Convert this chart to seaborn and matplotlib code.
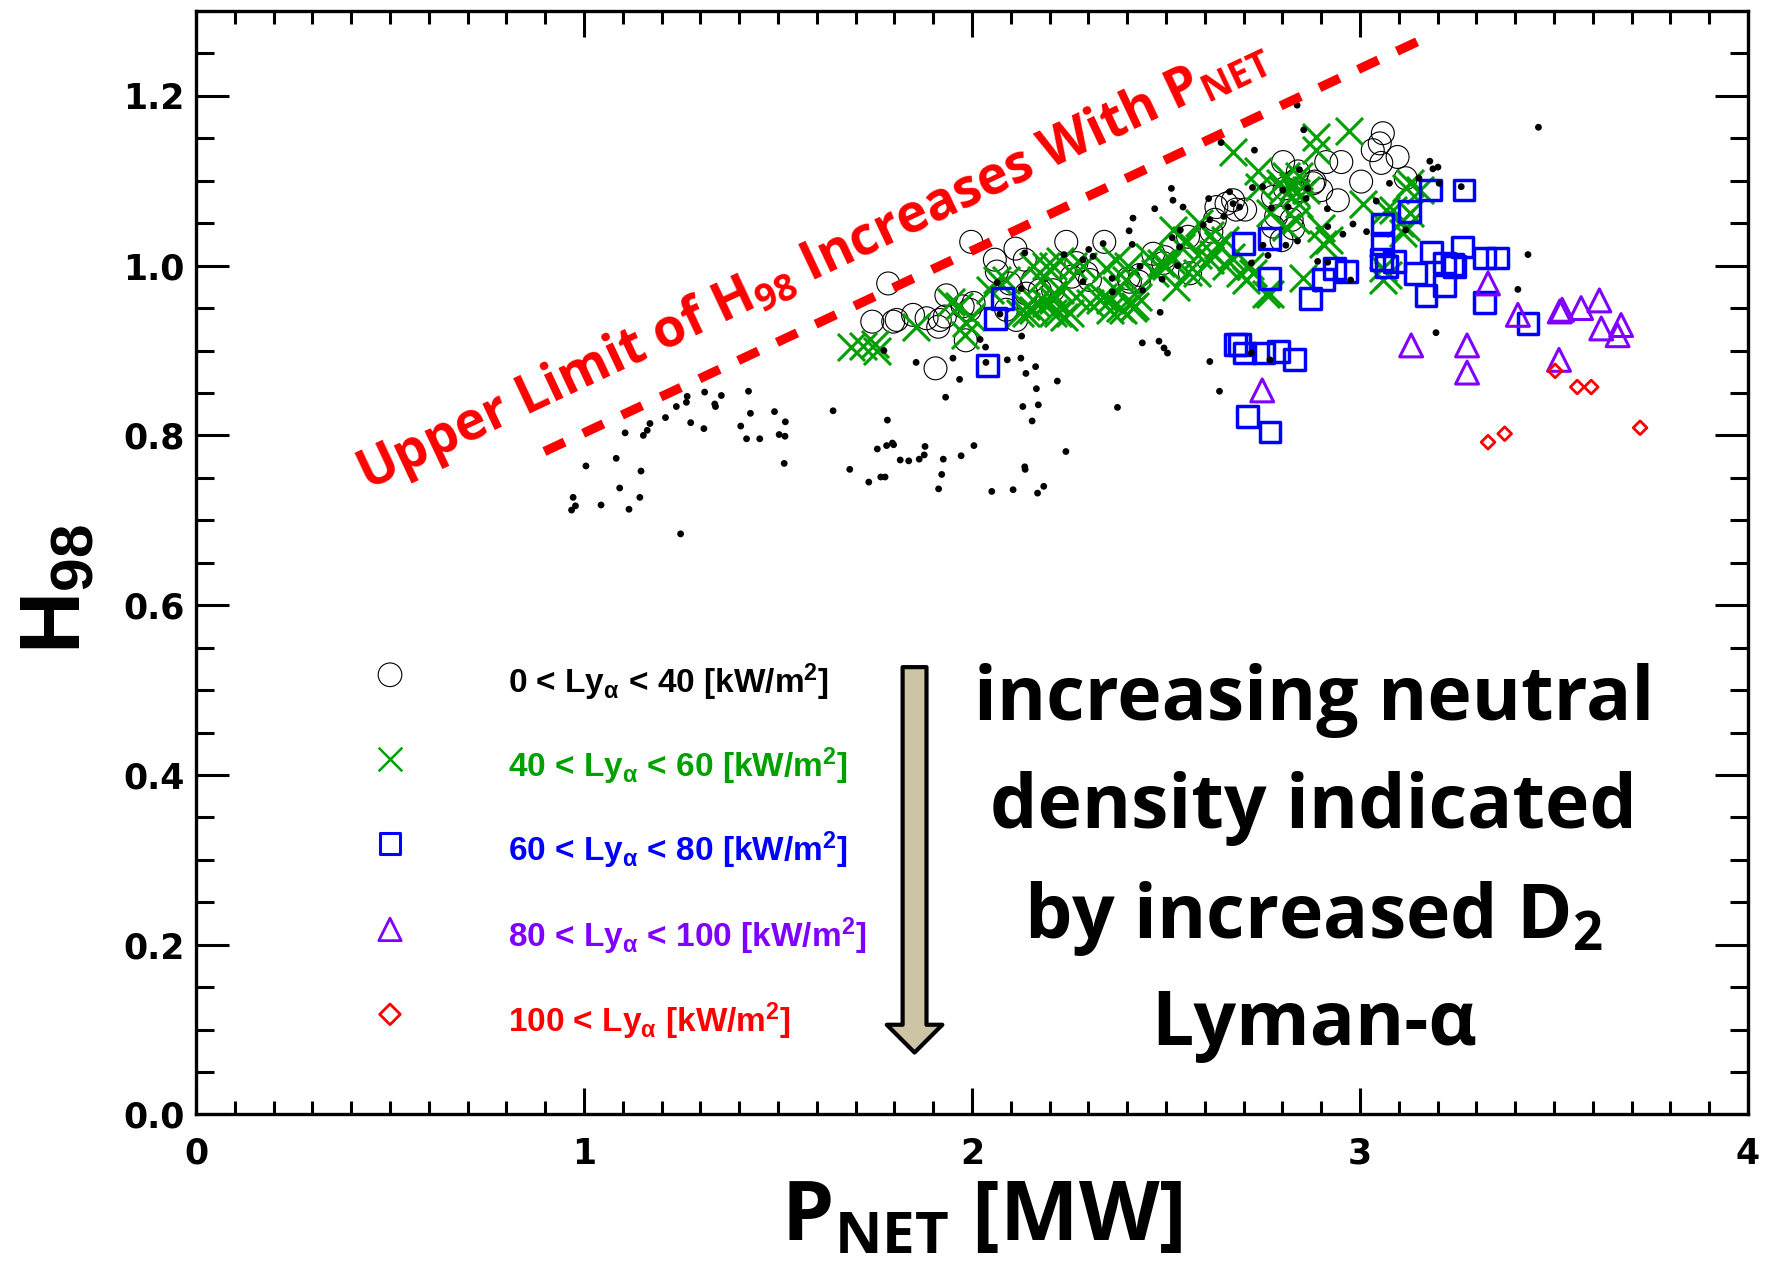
import matplotlib
matplotlib.use("Agg")
import matplotlib.pyplot as plt
import seaborn as sns
from matplotlib.ticker import MultipleLocator, FormatStrFormatter

sns.set_style("ticks")
plt.rcParams["font.family"] = ["DejaVu Sans"]
plt.rcParams["mathtext.fontset"] = "dejavusans"
for key in ["text.color", "axes.labelcolor", "xtick.color", "ytick.color", "axes.edgecolor"]:
    plt.rcParams[key] = "black"

# ---- all discharges (small black dots) ----
dot_x = [1.266, 1.264, 1.311, 1.354, 1.337, 1.339, 1.238, 1.210, 1.170, 1.163, 1.153, 1.106,
         1.275, 1.309, 1.424, 1.429, 1.491, 1.519, 1.404, 1.419, 1.453, 1.503, 1.518, 1.516,
         1.642, 1.005, 1.083, 1.147, 1.092, 1.144, 0.972, 0.978, 0.968, 1.044, 1.116, 1.249,
         1.782, 1.756, 1.780, 1.795, 1.798, 1.815, 1.837, 1.864, 1.879, 1.877, 1.926, 1.972,
         2.005, 1.685, 1.734, 1.765, 1.776, 1.922, 1.914, 2.051, 2.106, 2.136, 2.137, 2.169,
         2.185, 2.242, 2.375, 1.856, 1.951, 1.968, 1.932, 2.036, 2.091, 2.126, 2.164, 2.139,
         2.166, 2.220, 2.131, 2.171, 2.155, 2.128, 2.021, 2.035, 1.773,
         2.136, 2.237, 2.301, 2.286, 2.312, 2.338, 2.127, 2.072, 2.361, 2.286, 2.362, 2.065,
         2.838, 2.855, 2.642, 2.728, 2.514, 2.518, 2.471, 2.415, 2.405, 2.413, 2.610, 2.723,
         2.749, 2.544, 2.664, 2.673, 2.690, 2.649, 2.613, 2.596, 2.537, 2.516, 2.535, 2.530,
         2.490, 2.440, 2.485, 2.433, 2.750, 2.763, 2.772, 2.815, 2.809, 2.839, 2.844, 2.865,
         2.861, 2.801, 2.720, 2.917, 2.916, 2.956, 2.982, 2.891, 2.917, 2.976, 3.076, 3.042,
         3.017, 3.180, 3.188, 3.201, 3.261, 3.118, 3.196, 2.439, 2.482, 2.495, 2.504, 2.613,
         2.638, 2.720, 2.768, 3.460, 3.204, 3.433, 3.407, 3.152]
dot_y = [0.846, 0.839, 0.851, 0.847, 0.837, 0.834, 0.834, 0.821, 0.814, 0.806, 0.800, 0.803,
         0.815, 0.808, 0.852, 0.826, 0.828, 0.816, 0.811, 0.796, 0.796, 0.801, 0.799, 0.767,
         0.829, 0.764, 0.773, 0.758, 0.738, 0.727, 0.727, 0.717, 0.712, 0.718, 0.713, 0.684,
         0.818, 0.784, 0.788, 0.791, 0.789, 0.771, 0.770, 0.772, 0.787, 0.777, 0.772, 0.776,
         0.788, 0.760, 0.745, 0.751, 0.751, 0.754, 0.737, 0.734, 0.736, 0.763, 0.760, 0.732,
         0.740, 0.781, 0.833, 0.886, 0.891, 0.866, 0.845, 0.886, 0.889, 0.891, 0.881, 0.873,
         0.855, 0.864, 0.834, 0.836, 0.817, 0.917, 0.913, 0.904, 0.900,
         1.015, 1.013, 1.019, 1.007, 1.011, 1.026, 0.973, 0.943, 0.985, 0.981, 0.969, 0.980,
         1.189, 1.160, 1.145, 1.136, 1.091, 1.077, 1.067, 1.056, 1.041, 1.025, 1.079, 1.092,
         1.093, 1.069, 1.087, 1.073, 1.069, 1.058, 1.054, 1.048, 1.042, 1.033, 1.022, 1.000,
         0.984, 0.971, 0.945, 0.999, 1.024, 1.012, 1.068, 1.069, 1.024, 1.029, 1.113, 1.091,
         1.079, 1.089, 1.003, 1.046, 1.067, 1.037, 1.049, 1.005, 1.004, 0.983, 1.097, 1.076,
         1.040, 1.123, 1.114, 1.116, 1.093, 1.042, 0.921, 0.909, 0.911, 0.903, 0.897, 0.887,
         0.852, 0.897, 0.889, 1.163, 1.097, 1.013, 0.972, 1.103]

# ---- 0 < Ly_alpha < 40 ----
circ_x = [1.906, 1.743, 1.797, 1.806, 1.848, 1.883, 1.913, 1.917, 1.930, 1.934, 1.984, 1.994,
          1.976, 2.004, 2.059, 2.064, 2.112, 2.136, 1.998, 1.784, 2.097, 2.140, 2.157, 2.114,
          2.175, 2.209, 2.243, 2.269, 2.295, 2.304, 2.341, 2.257, 2.433, 2.407, 2.430, 2.467,
          2.497, 2.493, 2.557, 2.562, 2.617, 2.626, 2.656, 2.673, 2.681, 2.630, 2.704, 2.776,
          2.798, 2.824, 2.828, 2.784, 2.806, 2.836, 2.844, 2.879, 2.900, 2.913, 2.952, 2.943,
          3.003, 3.033, 3.051, 3.059, 3.055, 3.097, 3.118, 2.802, 2.840, 2.883, 2.776, 2.088,
          2.403]
circ_y = [0.879, 0.934, 0.934, 0.936, 0.942, 0.938, 0.928, 0.936, 0.940, 0.965, 0.912, 0.948,
          0.952, 0.956, 1.007, 0.993, 1.020, 1.007, 1.028, 0.979, 0.979, 0.967, 0.983, 0.936,
          0.971, 0.971, 1.028, 1.003, 0.991, 0.983, 1.028, 0.987, 0.989, 0.981, 0.981, 1.014,
          1.010, 1.003, 1.034, 0.991, 1.040, 1.054, 1.073, 1.077, 1.066, 1.069, 1.066, 1.046,
          1.030, 1.054, 1.044, 1.058, 1.091, 1.101, 1.089, 1.097, 1.089, 1.122, 1.122, 1.077,
          1.099, 1.136, 1.144, 1.156, 1.121, 1.128, 1.103, 1.122, 1.111, 1.099, 1.081, 0.948,
          0.985]

# ---- 40 < Ly_alpha < 60 ----
cross_x = [1.688, 1.720, 1.750, 1.754, 1.857, 1.947, 1.966, 1.984, 1.997, 1.981, 2.046, 2.064,
           2.088, 2.140, 2.157, 2.140, 2.166, 2.192, 2.209, 2.209, 2.236, 2.209, 2.226, 2.261,
           2.226, 2.269, 2.338, 2.355, 2.372, 2.346, 2.123, 2.372, 2.355, 2.381, 2.415, 2.398,
           2.428, 2.501, 2.514, 2.540, 2.557, 2.579, 2.583, 2.613, 2.613, 2.634, 2.651, 2.668,
           2.690, 2.707, 2.716, 2.673, 2.737, 2.741, 2.793, 2.809, 2.827, 2.844, 2.836, 2.768,
           2.809, 2.836, 2.886, 2.886, 2.973, 2.900, 2.904, 2.921, 2.759, 2.852, 3.009, 3.059,
           3.085, 2.527, 2.471, 2.488, 2.457, 3.128, 3.128, 3.103, 3.111, 3.059, 2.724, 2.192,
           2.179, 2.209, 2.222, 2.252, 2.286, 2.157, 2.304, 2.389, 2.419, 2.402, 2.329, 2.518,
           2.552, 2.586, 2.620, 2.655, 2.801, 2.861, 2.844, 2.768, 3.119, 3.154, 3.068, 3.119,
           3.072]
cross_y = [0.904, 0.905, 0.908, 0.899, 0.928, 0.957, 0.953, 0.932, 0.940, 0.918, 0.971, 0.983,
           0.983, 0.944, 0.999, 0.952, 0.956, 0.956, 0.959, 0.944, 0.940, 0.999, 1.005, 0.999,
           0.971, 0.963, 0.963, 0.948, 0.971, 0.997, 0.944, 1.007, 0.960, 0.950, 0.950, 0.983,
           0.963, 0.999, 1.007, 1.022, 0.993, 0.991, 1.012, 1.007, 1.036, 1.024, 1.030, 1.010,
           0.991, 0.983, 0.999, 1.134, 1.111, 1.093, 1.097, 1.105, 1.093, 1.105, 1.085, 1.062,
           1.046, 1.054, 1.152, 1.136, 1.158, 1.044, 1.026, 1.030, 0.967, 0.985, 1.073, 0.983,
           1.066, 0.975, 0.991, 1.003, 1.010, 1.097, 1.062, 1.050, 1.038, 0.997, 0.991, 0.999,
           0.983, 0.967, 0.944, 0.944, 0.999, 0.948, 0.956, 0.948, 0.952, 0.999, 0.960, 1.042,
           1.030, 1.050, 1.014, 0.999, 1.089, 1.089, 1.073, 0.967, 1.091, 1.089, 1.066, 1.046,
           0.989]

# ---- 60 < Ly_alpha < 80 ----
sq_x = [2.079, 2.061, 2.039, 2.699, 2.766, 2.766, 2.873, 2.905, 2.935, 2.965, 3.058, 3.058,
        3.055, 3.068, 3.089, 3.128, 3.182, 3.268, 3.184, 3.144, 3.170, 3.218, 3.239, 3.218,
        3.265, 3.321, 3.355, 3.321, 3.244, 3.433, 2.679, 2.703, 2.690, 2.751, 2.789, 2.832,
        2.710, 2.768]
sq_y = [0.961, 0.938, 0.882, 1.026, 1.032, 0.985, 0.961, 0.984, 0.997, 0.993, 1.048, 1.026,
        1.007, 0.999, 1.005, 1.064, 1.089, 1.089, 1.016, 0.991, 0.965, 1.003, 1.001, 0.977,
        1.022, 1.009, 1.009, 0.957, 0.999, 0.932, 0.907, 0.897, 0.907, 0.897, 0.899, 0.889,
        0.822, 0.804]

# ---- 80 < Ly_alpha < 100 ----
tri_x = [3.132, 3.276, 3.276, 3.330, 3.407, 3.515, 3.521, 3.570, 3.617, 3.622, 3.673, 3.664,
         3.513, 2.748]
tri_y = [0.906, 0.906, 0.874, 0.979, 0.942, 0.946, 0.948, 0.950, 0.959, 0.926, 0.930, 0.918,
         0.889, 0.853]

# ---- 100 < Ly_alpha ----
dia_x = [3.503, 3.560, 3.596, 3.330, 3.373, 3.722]
dia_y = [0.876, 0.857, 0.857, 0.792, 0.802, 0.809]

# upper-limit guide line
limit_x = [0.898, 3.172]
limit_y = [0.781, 1.269]

# key
key_labels = [
    r"0 < Ly$\mathregular{_{\alpha}}$ < 40 [kW/m$\mathregular{^{2}}$]",
    r"40 < Ly$\mathregular{_{\alpha}}$ < 60 [kW/m$\mathregular{^{2}}$]",
    r"60 < Ly$\mathregular{_{\alpha}}$ < 80 [kW/m$\mathregular{^{2}}$]",
    r"80 < Ly$\mathregular{_{\alpha}}$ < 100 [kW/m$\mathregular{^{2}}$]",
    r"100 < Ly$\mathregular{_{\alpha}}$ [kW/m$\mathregular{^{2}}$]",
]
key_y = [0.518, 0.419, 0.319, 0.218, 0.118]
key_colors = ["black", "#00a000", "#0000ff", "#8000ff", "#ff0000"]

CALI = "Open Sans"

fig = plt.figure(figsize=(17.69, 12.74), dpi=100)
ax = fig.add_axes([0.1108, 0.1252, 0.8773, 0.8662])

# data points
sns.scatterplot(x=circ_x, y=circ_y, ax=ax, marker="o", s=272, facecolor="none",
                edgecolor="black", linewidth=0.8, zorder=2)
sns.scatterplot(x=cross_x, y=cross_y, ax=ax, marker="x", s=380, color="#00a000",
                linewidth=2.2, zorder=3)
sns.scatterplot(x=sq_x, y=sq_y, ax=ax, marker="s", s=225, facecolor="none",
                edgecolor="#0000ff", linewidth=2.5, zorder=4)
sns.scatterplot(x=tri_x, y=tri_y, ax=ax, marker="^", s=272, facecolor="none",
                edgecolor="#8000ff", linewidth=2.2, zorder=5)
sns.scatterplot(x=dia_x, y=dia_y, ax=ax, marker="D", s=49, facecolor="none",
                edgecolor="#ff0000", linewidth=2.0, zorder=6)
sns.scatterplot(x=dot_x, y=dot_y, ax=ax, marker="o", s=24, color="black",
                edgecolor="none", linewidth=0, zorder=7)

# key markers and labels
key_x = [0.5] * 5
sns.scatterplot(x=key_x[0:1], y=key_y[0:1], ax=ax, marker="o", s=290, facecolor="none",
                edgecolor="black", linewidth=0.8)
sns.scatterplot(x=key_x[1:2], y=key_y[1:2], ax=ax, marker="x", s=290, color="#00a000",
                linewidth=1.8)
sns.scatterplot(x=key_x[2:3], y=key_y[2:3], ax=ax, marker="s", s=225, facecolor="none",
                edgecolor="#0000ff", linewidth=2.2)
sns.scatterplot(x=key_x[3:4], y=key_y[3:4], ax=ax, marker="^", s=260, facecolor="none",
                edgecolor="#8000ff", linewidth=2.0)
sns.scatterplot(x=key_x[4:5], y=key_y[4:5], ax=ax, marker="D", s=110, facecolor="none",
                edgecolor="#ff0000", linewidth=2.0)
for lab, yy, col in zip(key_labels, key_y, key_colors):
    ax.text(0.803, yy - 0.021, lab, color=col, fontsize=24, fontweight="bold",
            family="Liberation Sans", ha="left", va="baseline")

# upper-limit line and label
ax.plot(limit_x, limit_y, color="#ff0000", linewidth=6.7,
        linestyle=(0, (2.4, 2.2)), solid_capstyle="butt", dash_capstyle="butt", zorder=8)
ax.text(0.44, 0.735,
        r"Upper Limit of H$\mathregular{_{98}}$ Increases With P$\mathregular{_{NET}}$",
        color="#ff0000", fontsize=38, fontweight="bold", family=CALI,
        rotation=25.2, rotation_mode="anchor", ha="left", va="baseline", zorder=9)

# density arrow and its note
ax.annotate("", xy=(1.852, 0.073), xytext=(1.852, 0.527),
            arrowprops=dict(arrowstyle="simple,head_length=1.0,head_width=2.0,tail_width=0.86",
                            mutation_scale=20, fc="#ccc4a4", ec="black", lw=3,
                            shrinkA=0, shrinkB=0))
note_lines = ["increasing neutral", "density indicated",
              r"by increased D$\mathregular{_{2}}$", "Lyman-α"]
note_y = [0.465, 0.3375, 0.208, 0.082]
for line, yy in zip(note_lines, note_y):
    ax.text(2.881, yy, line, fontsize=54, fontweight="bold", family=CALI,
            ha="center", va="baseline", color="black")

# axes
ax.set_xlim(0, 4)
ax.set_ylim(0, 1.3)
ax.xaxis.set_major_locator(MultipleLocator(1))
ax.xaxis.set_minor_locator(MultipleLocator(0.1))
ax.yaxis.set_major_locator(MultipleLocator(0.2))
ax.yaxis.set_minor_locator(MultipleLocator(0.05))
ax.xaxis.set_major_formatter(FormatStrFormatter("%d"))
ax.yaxis.set_major_formatter(FormatStrFormatter("%.1f"))
ax.tick_params(which="both", direction="in", top=True, right=True, width=2.2,
               labelsize=25, colors="black")
ax.tick_params(axis="x", which="major", length=19, pad=16)
ax.tick_params(axis="x", which="minor", length=9.5)
ax.tick_params(axis="y", which="major", length=24, pad=8)
ax.tick_params(axis="y", which="minor", length=13)
for lab in ax.get_xticklabels() + ax.get_yticklabels():
    lab.set_fontweight("bold")
for sp in ax.spines.values():
    sp.set_linewidth(2.4)
    sp.set_color("black")
    sp.set_visible(True)

ax.set_xlabel(r"P$\mathregular{_{NET}}$ [MW]", fontsize=60, fontweight="bold", family=CALI,
              color="black")
ax.xaxis.label.set_verticalalignment("baseline")
ax.xaxis.set_label_coords(0.506, -0.1146)
ax.set_ylabel(r"H$\mathregular{_{98}}$", fontsize=62, fontweight="bold",
              family="Liberation Sans", color="black")
ax.yaxis.label.set_verticalalignment("baseline")
ax.yaxis.set_label_coords(-0.0747, 0.476)

fig.savefig("out.png", dpi=100)
